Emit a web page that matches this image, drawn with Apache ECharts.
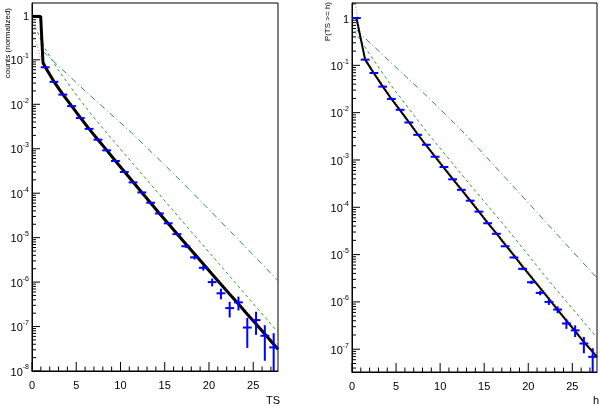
<!DOCTYPE html>
<html>
<head>
<meta charset="utf-8">
<script src="https://cdn.jsdelivr.net/npm/echarts@6/dist/echarts.min.js"></script>
<style>
  html, body { margin: 0; padding: 0; background: #fff; }
  #chart { width: 600px; height: 406px; }
</style>
</head>
<body>
<div id="chart"></div>
<script>
// bin centres shared by both panels
const binX = [1.49, 2.48, 3.48, 4.47, 5.46, 6.45, 7.45, 8.44, 9.43, 10.43, 11.42, 12.41, 13.41, 14.40,
  15.39, 16.38, 17.38, 18.37, 19.36, 20.36, 21.35, 22.34, 23.33, 24.33, 25.32, 26.31, 27.31];

// left panel: counts (normalized) vs TS
const leftCounts = [0.068, 0.032, 0.0165, 0.0091, 0.0049, 0.0028, 0.0016, 0.00092, 0.00053, 0.00030,
  0.000175, 0.000104, 6.1e-5, 3.5e-5, 2.1e-5, 1.2e-5, 6.4e-6, 3.6e-6, 2.1e-6, 1.0e-6, 5.6e-7, 2.6e-7,
  3.5e-7, 9.5e-8, 1.4e-7, 6.2e-8, 3.4e-8];
const leftErr = [5.2e-5, 3.6e-5, 2.6e-5, 1.9e-5, 1.4e-5, 1.06e-5, 8e-6, 6.1e-6, 4.6e-6, 3.5e-6, 2.6e-6,
  2.0e-6, 1.56e-6, 1.18e-6, 9.2e-7, 6.9e-7, 5.1e-7, 3.8e-7, 2.9e-7, 2.0e-7, 1.5e-7, 1.0e-7, 1.2e-7,
  6.2e-8, 7.5e-8, 4.5e-8, 3.7e-8];
const leftFitX = [0, 0.98, 1.24, 1.49, 2.48, 3.48, 4.47, 5.46, 6.45, 7.45, 8.44, 9.43, 10.43, 11.42, 12.41,
  13.41, 14.40, 15.39, 16.38, 17.38, 18.37, 19.36, 20.36, 21.35, 22.34, 23.33, 24.33, 25.32, 26.31, 27.31, 27.8];
const leftFit = [0.95, 0.95, 0.087, 0.069, 0.0325, 0.0167, 0.0092, 0.0050, 0.0028, 0.00159, 0.00093, 0.00053,
  0.000307, 0.000178, 0.000104, 6.0e-5, 3.5e-5, 2.07e-5, 1.22e-5, 7.2e-6, 4.3e-6, 2.55e-6, 1.5e-6, 8.9e-7,
  5.3e-7, 3.2e-7, 1.9e-7, 1.14e-7, 6.8e-8, 4.0e-8, 3.1e-8];
const leftRedX = [0.25, 0.5, 0.75, 1.0, 1.24, 2.48, 4.47, 6.45, 8.44, 10.43, 12.41, 14.40, 16.38, 18.37,
  20.36, 22.34, 24.33, 26.31, 27.8];
const leftRed = [0.3, 0.24, 0.16, 0.105, 0.09, 0.036, 0.0101, 0.0031, 0.00102, 0.00034, 0.000115, 3.9e-5,
  1.35e-5, 4.8e-6, 1.66e-6, 5.9e-7, 2.1e-7, 7.5e-8, 3.5e-8];
const leftYellowX = [1.24, 4.47, 8.44, 12.41, 16.38, 20.36, 24.33, 27.8];
const leftYellow = [0.1, 0.0125, 0.00128, 0.000145, 1.7e-5, 2.1e-6, 2.7e-7, 4.5e-8];
const leftGreenX = [0.3, 0.5, 1.44, 2.94, 4.83, 7.0, 9.96, 13.5, 17.8, 21.2, 24.5, 27.45, 27.8];
const leftGreen = [0.55, 0.48, 0.182, 0.060, 0.0182, 0.0050, 0.001, 1.51e-4, 1.51e-5, 2.5e-6, 4.3e-7,
  8.9e-8, 7.4e-8];
const leftTealX = [1.24, 6.0, 11.24, 16.0, 21.0, 26.3, 27.8];
const leftTeal = [0.155, 0.02, 0.0023, 0.000275, 2.7e-5, 2.2e-6, 1.07e-6];

// right panel: P(TS >= h) vs h
const rightX = [0.5].concat(binX);
const rightProb = [1.0, 0.132, 0.069, 0.0355, 0.0195, 0.0115, 0.0062, 0.0034, 0.0021, 0.00117, 0.00071,
  0.00039, 0.000234, 0.000138, 8.1e-5, 4.6e-5, 2.75e-5, 1.5e-5, 8.7e-6, 5.0e-6, 2.6e-6, 1.55e-6, 1.0e-6,
  6.9e-7, 3.5e-7, 2.5e-7, 1.32e-7, 6.9e-8];
const rightErr = [1.37e-4, 5e-5, 3.6e-5, 2.6e-5, 1.9e-5, 1.5e-5, 1.08e-5, 8e-6, 6.3e-6, 4.7e-6, 3.7e-6,
  2.7e-6, 2.1e-6, 1.6e-6, 1.24e-6, 9.3e-7, 7.2e-7, 5.3e-7, 4.1e-7, 3.1e-7, 2.2e-7, 1.7e-7, 1.37e-7,
  1.14e-7, 8.1e-8, 6.9e-8, 5e-8, 3.6e-8];
const rightFitX = rightX.concat([27.8]);
const rightFit = [1.0, 0.132, 0.068, 0.036, 0.0195, 0.0112, 0.0063, 0.0035, 0.0020, 0.00117, 0.00068,
  0.0004, 0.000235, 0.000138, 8.1e-5, 4.7e-5, 2.8e-5, 1.62e-5, 9.6e-6, 5.6e-6, 3.3e-6, 1.96e-6, 1.16e-6,
  6.8e-7, 4.0e-7, 2.4e-7, 1.42e-7, 8.8e-8, 6.8e-8];
const rightOrangeX = [0.3, 0.68, 1.07, 1.45, 2.48, 4.47, 8.44, 12.41, 16.38, 20.36, 24.33, 27.8];
const rightOrange = [2.3, 0.91, 0.35, 0.15, 0.075, 0.0215, 0.0022, 0.00026, 3.1e-5, 3.7e-6, 4.5e-7, 7.8e-8];
const rightYellowX = [1.45, 4.47, 8.44, 12.41, 16.38, 20.36, 24.33, 27.8];
const rightYellow = [0.17, 0.025, 0.0026, 0.0003, 3.5e-5, 4.2e-6, 5.1e-7, 8.8e-8];
const rightGreenX = [0.3, 1.5, 2.5, 4.47, 8.44, 12.41, 17.8, 22.34, 27.45, 27.8];
const rightGreen = [0.525, 0.24, 0.126, 0.037, 0.004, 0.0005, 3.16e-5, 2.8e-6, 2.1e-7, 1.74e-7];
const rightTealX = [0.5, 4.47, 8.44, 12.41, 16.38, 20.36, 24.33, 27.8];
const rightTeal = [0.56, 0.112, 0.0229, 0.00427, 0.00068, 1.05e-4, 1.62e-5, 3.2e-6];

const xMax = 27.8;
const binHalf = 0.5;
const panels = [
  { left: 32, width: 246, height: 368, yMin: 1e-8, yMax: 1.9, xName: 'TS', yName: 'counts (normalized)' },
  { left: 352, width: 245, height: 369, yMin: 3.3e-8, yMax: 2.08, xName: 'h', yName: 'P(TS >= h)' }
];

const chart = echarts.init(document.getElementById('chart'));
const FONT = 'Liberation Sans, Arial, Helvetica, sans-serif';

function pairs(xs, ys) { return xs.map((x, i) => [x, ys[i]]); }

function powLabel(v) {
  const l = Math.log10(v);
  const n = Math.round(l);
  if (Math.abs(l - n) > 1e-6) return '';
  if (n === 0) return '{b|1}';
  return '{b|10}{s|' + n + '}';
}

function yTickData(p) {
  const out = [];
  for (let e = -9; e <= 1; e++) {
    for (let m = 1; m <= 9; m++) {
      const v = m * Math.pow(10, e);
      if (v >= p.yMin && v <= p.yMax) out.push([0, v, m === 1 ? 1 : 0]);
    }
  }
  return out;
}
function xTickData(p) {
  const out = [];
  for (let t = 0; t <= xMax; t++) out.push([t, p.yMin, t % 5 === 0 ? 1 : 0]);
  return out;
}

const grid = [], xAxis = [], yAxis = [], series = [], graphic = [];

panels.forEach((p, k) => {
  grid.push({ left: p.left, top: 3, width: p.width, height: p.height, show: true,
    borderColor: '#000', borderWidth: 1, backgroundColor: '#fff' });
  xAxis.push({
    type: 'value', gridIndex: k, min: 0, max: xMax, interval: 5,
    axisLine: { lineStyle: { color: '#000', width: 1 } },
    axisTick: { show: false }, splitLine: { show: false },
    axisLabel: { color: '#000', fontFamily: FONT, fontSize: 11, margin: 9, showMaxLabel: false,
      formatter: v => (Math.abs(v % 5) < 1e-9 ? String(v) : '') }
  });
  yAxis.push({
    type: 'log', gridIndex: k, min: p.yMin, max: p.yMax, logBase: 10, splitNumber: 8,
    axisLine: { lineStyle: { color: '#000', width: 1 } },
    axisTick: { show: false }, splitLine: { show: false }, minorTick: { show: false },
    axisLabel: { color: '#000', fontFamily: FONT, margin: 3, showMinLabel: true, showMaxLabel: true,
      formatter: powLabel,
      rich: {
        b: { fontSize: 11, fontFamily: FONT, color: '#000', lineHeight: 14, verticalAlign: 'bottom' },
        s: { fontSize: 7, fontFamily: FONT, color: '#000', lineHeight: 8, verticalAlign: 'top' }
      } }
  });

  // y ticks (major + log minor), drawn inward
  series.push({
    type: 'custom', xAxisIndex: k, yAxisIndex: k, silent: true, clip: false,
    data: yTickData(p),
    renderItem: (params, api) => {
      const pt = api.coord([0, api.value(1)]);
      const len = api.value(2) ? 8 : 4;
      return { type: 'line', shape: { x1: pt[0], y1: pt[1], x2: pt[0] + len, y2: pt[1] },
        style: { stroke: '#000', lineWidth: 1 } };
    }
  });
  // x ticks
  series.push({
    type: 'custom', xAxisIndex: k, yAxisIndex: k, silent: true, clip: false,
    data: xTickData(p),
    renderItem: (params, api) => {
      const pt = api.coord([api.value(0), p.yMin]);
      const len = api.value(2) ? 9 : 4.5;
      return { type: 'line', shape: { x1: pt[0], y1: pt[1], x2: pt[0], y2: pt[1] - len },
        style: { stroke: '#000', lineWidth: 1 } };
    }
  });

  graphic.push({ type: 'text', left: p.left + p.width - (k === 0 ? 12 : 4), top: 395,
    style: { text: p.xName, font: '11px ' + FONT, fill: '#000' } });
  graphic.push({ type: 'text', x: k === 0 ? 4 : 324, y: k === 0 ? 8 : 2, rotation: Math.PI / 2,
    style: { text: p.yName, font: '8px ' + FONT, fill: '#000', align: 'right', verticalAlign: 'top' } });
});

function curve(k, xs, ys, color, type, width) {
  series.push({ type: 'line', xAxisIndex: k, yAxisIndex: k, data: pairs(xs, ys), showSymbol: false,
    silent: true, z: 3, lineStyle: { color: color, width: width || 1, type: type } });
}
function crosses(k, xs, ys, errs, yMin) {
  series.push({
    type: 'custom', xAxisIndex: k, yAxisIndex: k, silent: true, clip: true, z: 4,
    data: xs.map((x, i) => [x, ys[i], Math.max(ys[i] - errs[i], yMin * 0.3), ys[i] + errs[i]]),
    renderItem: (params, api) => {
      const x = api.value(0), y = api.value(1);
      const a = api.coord([x - binHalf, y]), b = api.coord([x + binHalf, y]);
      const lo = api.coord([x, api.value(2)]), hi = api.coord([x, api.value(3)]);
      const st = { stroke: '#0000ff', lineWidth: 2 };
      return { type: 'group', children: [
        { type: 'line', shape: { x1: a[0], y1: a[1], x2: b[0], y2: b[1] }, style: st },
        { type: 'line', shape: { x1: lo[0], y1: lo[1], x2: hi[0], y2: hi[1] }, style: st }
      ] };
    }
  });
}

// left panel
curve(0, leftTealX, leftTeal, '#2f7f8c', [6, 3, 1, 3]);
curve(0, leftGreenX, leftGreen, '#2b9a2b', [3, 3]);
curve(0, leftYellowX, leftYellow, '#f2ee60', [1, 2]);
curve(0, leftRedX, leftRed, '#e8505a', [1, 2]);
crosses(0, binX, leftCounts, leftErr, panels[0].yMin);
curve(0, leftFitX, leftFit, '#000', 'solid', 3);

// right panel
curve(1, rightTealX, rightTeal, '#2f7f8c', [6, 3, 1, 3]);
curve(1, rightGreenX, rightGreen, '#2b9a2b', [3, 3]);
curve(1, rightYellowX, rightYellow, '#f2ee60', [1, 2]);
curve(1, rightOrangeX, rightOrange, '#d0803c', [1, 2]);
crosses(1, rightX, rightProb, rightErr, panels[1].yMin);
curve(1, rightFitX, rightFit, '#000', 'solid', 2);

chart.setOption({ animation: false, grid, xAxis, yAxis, series, graphic });
</script>
</body>
</html>
